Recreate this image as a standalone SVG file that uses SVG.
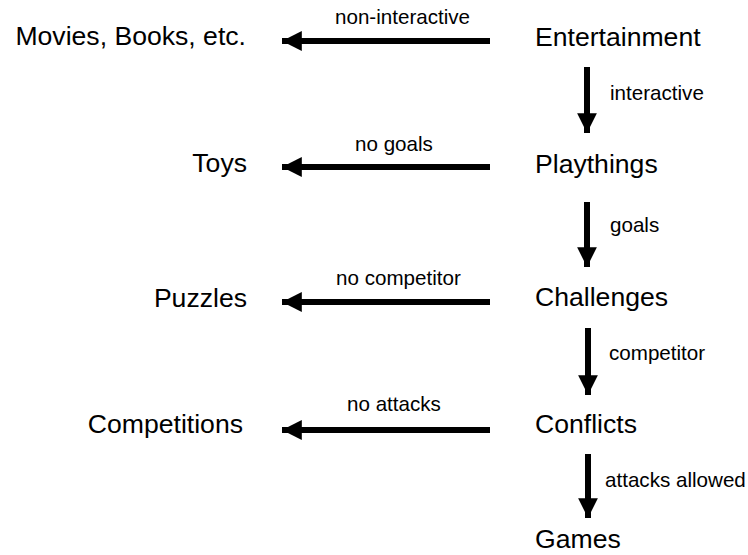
<svg xmlns="http://www.w3.org/2000/svg" width="748" height="555" viewBox="0 0 748 555">
  <style>
    .node { font-family: "Liberation Sans", Arial, sans-serif; font-size: 26.6px; fill: #000; }
    .lbl { font-family: "Liberation Sans", Arial, sans-serif; font-size: 20.6px; fill: #000; }
    .edge { stroke: #000; stroke-width: 6; fill: none; }
  </style>
  <defs>
    <marker id="arr" viewBox="0 0 10 10" refX="10" refY="5" markerWidth="3.3" markerHeight="3.3" markerUnits="strokeWidth" orient="auto">
      <path d="M0,0 L10,5 L0,10 Z" fill="#000"/>
    </marker>
  </defs>
  <rect width="748" height="555" fill="#fff"/>

  <g id="connectors">
    <line class="edge" x1="490" y1="41" x2="282" y2="41" marker-end="url(#arr)"/>
    <line class="edge" x1="490" y1="167" x2="282" y2="167" marker-end="url(#arr)"/>
    <line class="edge" x1="490" y1="302" x2="282" y2="302" marker-end="url(#arr)"/>
    <line class="edge" x1="490" y1="430" x2="282" y2="430" marker-end="url(#arr)"/>
    <line class="edge" x1="587" y1="67" x2="587" y2="133" marker-end="url(#arr)"/>
    <line class="edge" x1="587" y1="202" x2="587" y2="267" marker-end="url(#arr)"/>
    <line class="edge" x1="588" y1="328" x2="588" y2="395" marker-end="url(#arr)"/>
    <line class="edge" x1="588" y1="454" x2="588" y2="518" marker-end="url(#arr)"/>
    <text class="lbl" x="335" y="24">non-interactive</text>
    <text class="lbl" x="355" y="151">no goals</text>
    <text class="lbl" x="336" y="285">no competitor</text>
    <text class="lbl" x="347" y="411">no attacks</text>
    <text class="lbl" x="610" y="100">interactive</text>
    <text class="lbl" x="610" y="232">goals</text>
    <text class="lbl" x="609" y="360">competitor</text>
    <text class="lbl" x="605" y="487">attacks allowed</text>
  </g>

  <g id="entertainment"><text class="node" x="535" y="46">Entertainment</text></g>
  <g id="playthings"><text class="node" x="535" y="173">Playthings</text></g>
  <g id="challenges"><text class="node" x="535" y="306">Challenges</text></g>
  <g id="conflicts"><text class="node" x="535" y="433">Conflicts</text></g>
  <g id="games"><text class="node" x="535" y="548">Games</text></g>
  <g id="movies"><text class="node" x="246" y="45" text-anchor="end">Movies, Books, etc.</text></g>
  <g id="toys"><text class="node" x="247" y="172" text-anchor="end">Toys</text></g>
  <g id="puzzles"><text class="node" x="247" y="307" text-anchor="end">Puzzles</text></g>
  <g id="competitions"><text class="node" x="243" y="433" text-anchor="end">Competitions</text></g>
</svg>
